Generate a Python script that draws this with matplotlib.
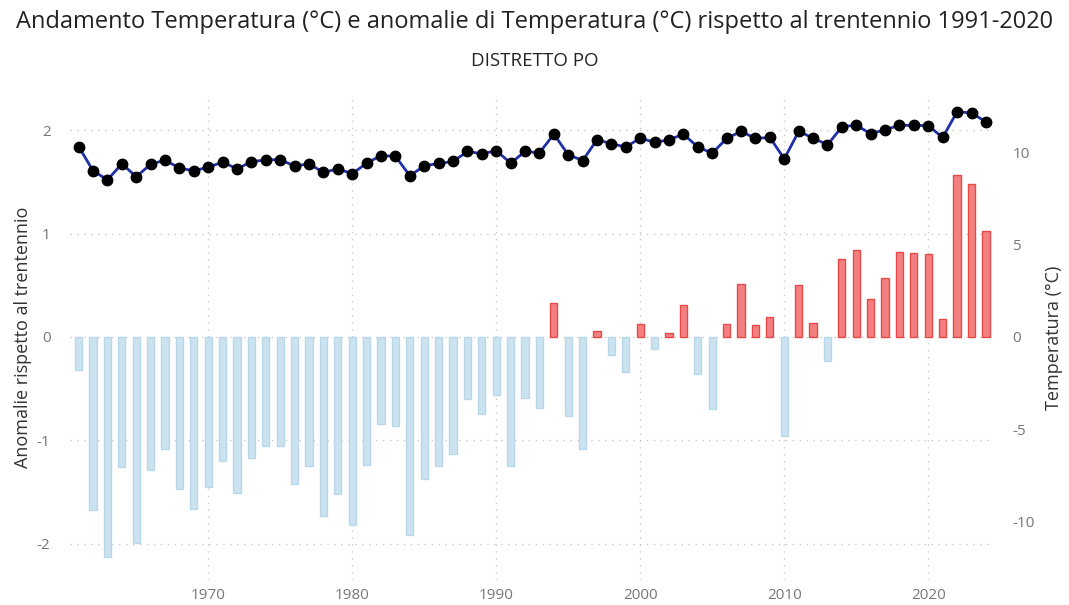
import matplotlib
matplotlib.use('Agg')
import matplotlib.pyplot as plt
import numpy as np

# dati (Distretto Po)
anni = list(range(1961, 2025))
anomalie = [-0.32, -1.67, -2.13, -1.26, -1.99, -1.29, -1.08, -1.47, -1.66, -1.45,
            -1.20, -1.51, -1.17, -1.05, -1.05, -1.42, -1.25, -1.73, -1.52, -1.82,
            -1.24, -0.84, -0.86, -1.91, -1.37, -1.25, -1.13, -0.60, -0.74, -0.56,
            -1.25, -0.59, -0.69, 0.33, -0.76, -1.08, 0.06, -0.17, -0.34, 0.13,
            -0.12, 0.04, 0.31, -0.36, -0.70, 0.13, 0.51, 0.12, 0.19, -0.96,
            0.50, 0.14, -0.23, 0.75, 0.84, 0.37, 0.57, 0.82, 0.81, 0.80,
            0.17, 1.57, 1.48, 1.02]
temperatura = [10.34, 9.02, 8.53, 9.40, 8.70, 9.38, 9.60, 9.17, 9.02, 9.22,
               9.49, 9.13, 9.51, 9.62, 9.62, 9.28, 9.40, 8.93, 9.13, 8.86,
               9.44, 9.85, 9.81, 8.75, 9.29, 9.42, 9.53, 10.07, 9.95, 10.11,
               9.44, 10.07, 10.00, 11.01, 9.89, 9.58, 10.71, 10.49, 10.31, 10.80,
               10.56, 10.71, 11.01, 10.31, 9.98, 10.78, 11.16, 10.78, 10.83, 9.67,
               11.16, 10.80, 10.43, 11.41, 11.50, 11.03, 11.25, 11.49, 11.49, 11.47,
               10.83, 12.23, 12.16, 11.68]

anni_tick = [1970, 1980, 1990, 2000, 2010, 2020]
sx_tick = [-2, -1, 0, 1, 2]
dx_tick = [-10, -5, 0, 5, 10]

plt.rcParams['font.family'] = ['Open Sans', 'DejaVu Sans']
plt.rcParams['axes.unicode_minus'] = False  # trattino come nel grafico originale

fig = plt.figure(figsize=(10.69, 6.05), dpi=100)
ax = fig.add_axes([0.0655, 0.0413, 0.8635, 0.8017])

col_bar = ['#f28080' if a > 0 else '#cbe3f0' for a in anomalie]
edge_bar = ['#e84a4a' if a > 0 else '#b8d8ea' for a in anomalie]
ax.bar(anni, anomalie, width=0.5, color=col_bar, edgecolor=edge_bar, linewidth=1, zorder=2)

ax.set_xlim(1960.4, 2024.5)
ax.set_ylim(-2.35, 2.34)
ax.set_xticks(anni_tick)
ax.set_yticks(sx_tick)
ax.grid(True, color='#c8c8c8', linestyle=(0, (1, 4)), linewidth=1, zorder=0)
for s in ax.spines.values():
    s.set_visible(False)
ax.tick_params(axis='y', length=0, labelsize=11, labelcolor='#777777', pad=14)
ax.tick_params(axis='x', length=0, labelsize=11, labelcolor='#777777', pad=6)
ax.set_ylabel('Anomalie rispetto al trentennio', fontsize=13, color='#333333')
ax.yaxis.set_label_coords(-0.041, 0.5)

ax2 = ax.twinx()
ax2.plot(anni, temperatura, color='#1f2fa8', linewidth=2, marker='o',
         markersize=7.5, markerfacecolor='black', markeredgecolor='black', zorder=3)
fattore = 103.3 / 18.4
ax2.set_ylim(-2.35 * fattore, 2.34 * fattore)
ax2.set_yticks(dx_tick)
for s in ax2.spines.values():
    s.set_visible(False)
ax2.tick_params(length=0, labelsize=11, labelcolor='#777777', pad=14)
ax2.set_ylabel('Temperatura (°C)', fontsize=13, color='#333333')
ax2.yaxis.set_label_coords(1.056, 0.5)

fig.text(0.5, 0.963, 'Andamento Temperatura (°C) e anomalie di Temperatura (°C) rispetto al trentennio 1991-2020',
         ha='center', va='center', fontsize=17, color='#222222', fontweight='medium')
fig.text(0.5, 0.9, 'DISTRETTO PO', ha='center', va='center', fontsize=13.5, color='#252423')

fig.savefig('out.png', dpi=100)
